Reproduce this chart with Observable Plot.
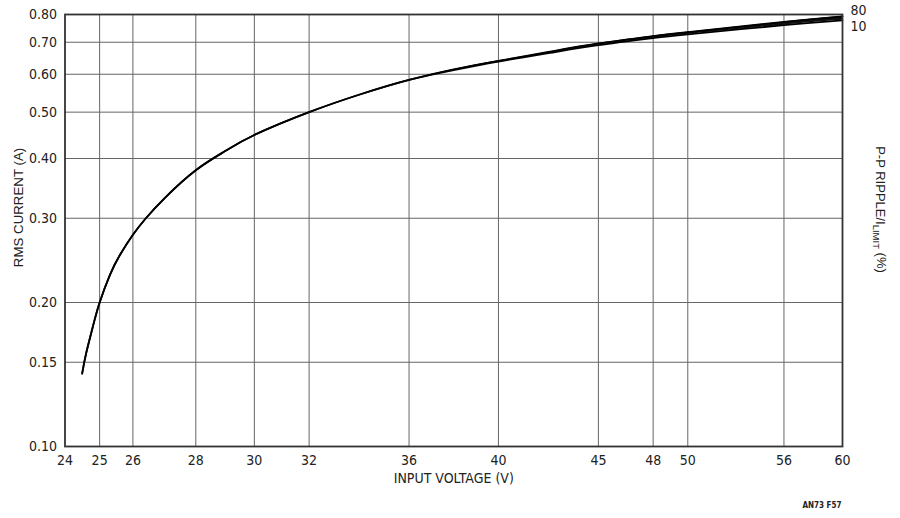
<!DOCTYPE html>
<html>
<head>
<meta charset="utf-8">
<script src="https://cdn.jsdelivr.net/npm/d3@7"></script>
<script src="https://cdn.jsdelivr.net/npm/@observablehq/plot@0.6"></script>
<style>
  html, body { margin: 0; padding: 0; background: #fff; }
  #chart { width: 900px; height: 518px; }
</style>
</head>
<body>
<div id="chart"></div>
<script>
// Input voltage (V)
const vin = [24.49, 24.6, 24.8, 25, 25.3, 25.6, 26, 26.4, 27, 28, 29, 30, 32, 34, 36, 38, 40, 42.5, 45, 48, 50, 56, 60];
// RMS current (A) for P-P ripple / I_LIMIT = 10 %
const ripple10 = [0.142, 0.156, 0.178, 0.200, 0.228, 0.251, 0.277, 0.300, 0.331, 0.378, 0.415, 0.448, 0.500, 0.545, 0.584, 0.613, 0.638, 0.665, 0.690, 0.714, 0.727, 0.760, 0.778];
// RMS current (A) for P-P ripple / I_LIMIT = 80 %
const ripple80 = [0.142, 0.156, 0.178, 0.200, 0.228, 0.251, 0.277, 0.300, 0.331, 0.378, 0.415, 0.448, 0.500, 0.545, 0.584, 0.615, 0.640, 0.669, 0.696, 0.721, 0.735, 0.772, 0.793];

const xTicks = [24, 25, 26, 28, 30, 32, 36, 40, 45, 48, 50, 56, 60];
const yTicks = [0.10, 0.15, 0.20, 0.30, 0.40, 0.50, 0.60, 0.70, 0.80];
const seriesLabels = ["10", "80"];

const data = [];
const band = [];
vin.forEach((v, i) => {
  data.push({v, a: ripple10[i], s: seriesLabels[0]});
  data.push({v, a: ripple80[i], s: seriesLabels[1]});
  band.push({v, lo: ripple10[i], hi: ripple80[i]});
});
const last = vin.length - 1;
const ends = [
  {v: vin[last], a: ripple80[last], s: seriesLabels[1]},
  {v: vin[last], a: ripple10[last], s: seriesLabels[0]}
];

const narrow = "'Liberation Sans Narrow', 'DejaVu Sans Condensed', sans-serif";
const regular = "'Liberation Sans', Arial, sans-serif";

const plot = Plot.plot({
  width: 900,
  height: 518,
  marginLeft: 64.5,
  marginRight: 58,
  marginTop: 14,
  marginBottom: 72,
  style: {fontFamily: narrow, fontSize: "14px", color: "#222", background: "#fff"},
  x: {type: "log", domain: [24, 60]},
  y: {type: "log", domain: [0.1, 0.8]},
  marks: [
    Plot.ruleX(xTicks.slice(1, -1), {stroke: "#666", strokeWidth: 1}),
    Plot.ruleY(yTicks.slice(1, -1), {stroke: "#666", strokeWidth: 1}),
    Plot.axisX({ticks: xTicks, tickSize: 0, tickPadding: 9, tickFormat: d => String(d), label: null, fontSize: 14}),
    Plot.axisY({ticks: yTicks, tickSize: 0, tickPadding: 8, tickFormat: d3.format(".2f"), label: null, fontSize: 14}),
    Plot.areaY(band, {x: "v", y1: "lo", y2: "hi", fill: "#111", curve: "natural"}),
    Plot.line(data, {x: "v", y: "a", z: "s", stroke: "#000", strokeWidth: 1.8, curve: "natural"}),
    Plot.frame({stroke: "#333", strokeWidth: 1.8}),
    Plot.text([ends[0]], {x: "v", y: "a", text: "s", textAnchor: "start", lineAnchor: "middle", dx: 8, dy: -6, fontSize: 14}),
    Plot.text([ends[1]], {x: "v", y: "a", text: "s", textAnchor: "start", lineAnchor: "middle", dx: 8, dy: 6, fontSize: 14}),
    Plot.text(["INPUT VOLTAGE (V)"], {frameAnchor: "bottom", textAnchor: "middle", lineAnchor: "middle", dy: 32, fontSize: 14, fontFamily: narrow}),
    Plot.text(["RMS CURRENT (A)"], {frameAnchor: "left", textAnchor: "middle", lineAnchor: "middle", rotate: -90, dx: -46.5, dy: -23, fontSize: 13.3, fontFamily: regular}),
    Plot.text(["P-P RIPPLE/ILIMIT (%)"], {frameAnchor: "right", textAnchor: "middle", lineAnchor: "middle", rotate: 90, dx: 38, dy: -21, fontSize: 13, fontFamily: regular}),
    Plot.text(["AN73 F57"], {frameAnchor: "bottom-right", textAnchor: "end", lineAnchor: "middle", dx: -1, dy: 58.5, fontSize: 8, fontWeight: "bold", fontFamily: narrow})
  ]
});

// Subscript for I_LIMIT
d3.select(plot).selectAll("text").filter(function () {
  return this.textContent === "P-P RIPPLE/ILIMIT (%)";
}).each(function () {
  const t = d3.select(this);
  t.text(null);
  t.append("tspan").text("P-P RIPPLE/I");
  t.append("tspan").attr("dy", "0.3em").attr("font-size", "9.5").text("LIMIT");
  t.append("tspan").attr("dy", "-0.3em").text(" (%)");
});

document.getElementById("chart").appendChild(plot);
</script>
</body>
</html>
